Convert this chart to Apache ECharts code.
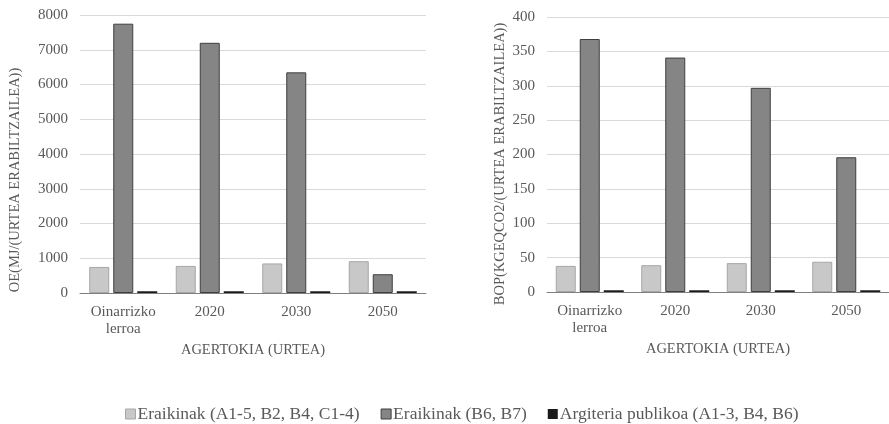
<!DOCTYPE html>
<html>
<head>
<meta charset="utf-8">
<script src="https://cdn.jsdelivr.net/npm/echarts@6/dist/echarts.min.js"></script>
<style>html,body{margin:0;padding:0;background:#fff}#c{width:889px;height:424px}</style>
</head>
<body>
<div id="c"></div>
<script>
const categories = ['Oinarrizko\nlerroa', '2020', '2030', '2050'];
const seriesNames = ['Eraikinak (A1-5, B2, B4, C1-4)', 'Eraikinak (B6, B7)', 'Argiteria publikoa (A1-3, B4, B6)'];
const oeLight = [750, 780, 850, 915];
const oeDark = [7750, 7200, 6350, 540];
const oeBlack = [50, 50, 50, 50];
const bopLight = [38, 39, 42, 44];
const bopDark = [368, 341, 297, 196];
const bopBlack = [2.5, 2.5, 2.5, 2.5];
const leftTicks = {max: 8000, interval: 1000};
const rightTicks = {max: 400, interval: 50};
const yTitles = ['OE(MJ/(URTEA ERABILTZAILEA))', 'BOP(KGEQCO2/(URTEA ERABILTZAILEA))'];
const xTitle = 'AGERTOKIA (URTEA)';

const FONT = '"Liberation Serif", "Times New Roman", serif';
const TXT = '#595959';
const styles = [
  {color: '#c8c8c8', borderColor: '#a6a6a6', borderWidth: 1},
  {color: '#858585', borderColor: '#3f3f3f', borderWidth: 1},
  {color: '#1a1a1a', borderColor: '#000', borderWidth: 0}
];

function xAxis(gi) {
  return {
    type: 'category', gridIndex: gi, data: categories,
    axisLine: {lineStyle: {color: '#7f7f7f', width: 1}},
    axisTick: {show: false},
    axisLabel: {fontFamily: FONT, fontSize: 15, color: TXT, margin: 11, lineHeight: 17},
    name: xTitle, nameLocation: 'middle', nameGap: 50,
    nameTextStyle: {fontFamily: FONT, fontSize: 14.5, color: TXT}
  };
}
function yAxis(gi, t) {
  return {
    type: 'value', gridIndex: gi, min: 0, max: t.max, interval: t.interval,
    axisLine: {show: false}, axisTick: {show: false},
    splitLine: {lineStyle: {color: '#d9d9d9', width: 1}},
    axisLabel: {fontFamily: FONT, fontSize: 15, color: TXT, margin: 12, formatter: v => String(v)}
  };
}
function bar(i, gi, data) {
  return {
    type: 'bar', name: seriesNames[i], xAxisIndex: gi, yAxisIndex: gi, data: data,
    barWidth: 20, barGap: '20%', itemStyle: styles[i]
  };
}
function vTitle(text, x, y) {
  return {
    type: 'text', x: x, y: y, rotation: Math.PI / 2,
    style: {text: text, fontFamily: FONT, fontSize: 14.5, fill: TXT, align: 'center', verticalAlign: 'middle'}
  };
}

const chart = echarts.init(document.getElementById('c'), null, {renderer: 'canvas'});
chart.setOption({
  animation: false,
  backgroundColor: '#fff',
  grid: [
    {left: 80, top: 15, width: 346, height: 278},
    {left: 547, top: 17, width: 346, height: 275}
  ],
  xAxis: [xAxis(0), xAxis(1)],
  yAxis: [yAxis(0, leftTicks), yAxis(1, rightTicks)],
  graphic: [vTitle(yTitles[0], 15, 180), vTitle(yTitles[1], 500, 164)],
  legend: {
    top: 400, left: 120, itemWidth: 10, itemHeight: 10, itemGap: 21,
    textStyle: {fontFamily: FONT, fontSize: 17.5, color: TXT, padding: [0, 0, 0, -3]},
    data: seriesNames.map((n, i) => ({name: n, icon: 'rect', itemStyle: styles[i]}))
  },
  series: [
    bar(0, 0, oeLight), bar(1, 0, oeDark), bar(2, 0, oeBlack),
    bar(0, 1, bopLight), bar(1, 1, bopDark), bar(2, 1, bopBlack)
  ]
});
</script>
</body>
</html>
